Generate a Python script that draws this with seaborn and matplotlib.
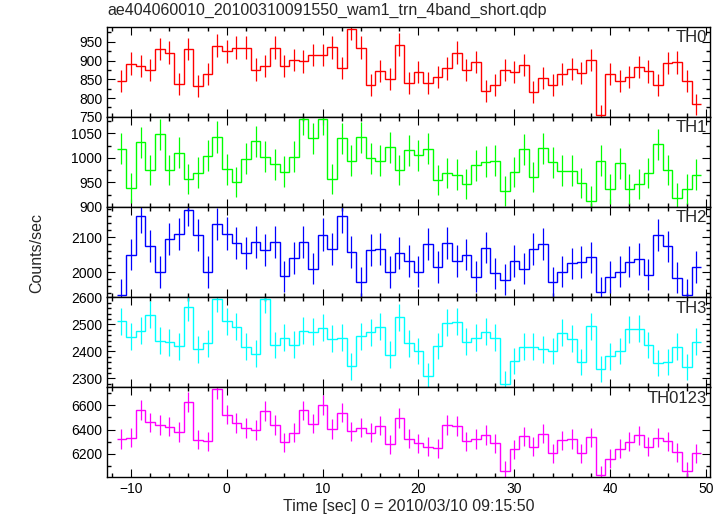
import matplotlib
matplotlib.use("Agg")
import matplotlib.pyplot as plt
import seaborn as sns
import numpy as np
from matplotlib.ticker import MultipleLocator

# bin centres (1 s bins)
time = np.arange(-11, 50)

th0 = [846, 892, 885, 874, 931, 921, 838, 931, 832, 865, 940, 925, 934, 934, 876, 886,
       934, 885, 901, 898, 915, 915, 936, 880, 985, 934, 835, 872, 850, 942, 841, 869,
       841, 856, 879, 921, 875, 896, 819, 835, 874, 869, 889, 816, 854, 835, 865, 878,
       867, 901, 754, 865, 845, 857, 883, 871, 835, 893, 895, 846, 783]
th1 = [1019, 938, 1032, 975, 1048, 975, 1011, 957, 970, 1005, 1043, 977, 951, 998, 1034, 1002,
       987, 972, 1002, 1079, 1040, 1079, 957, 1040, 994, 1042, 999, 994, 1022, 975, 1016, 1006,
       1019, 955, 969, 966, 946, 985, 992, 994, 932, 971, 1018, 961, 1020, 991, 974, 974,
       949, 912, 994, 936, 989, 936, 947, 969, 1028, 975, 918, 936, 966]
th2 = [1936, 2051, 2160, 2075, 2001, 2096, 2109, 2179, 2106, 2001, 2139, 2111, 2085, 2056, 2087, 2063,
       2087, 1989, 2042, 2088, 2011, 2108, 2068, 2160, 2059, 1972, 2063, 2068, 2001, 2055, 2033, 2002,
       2082, 2016, 2084, 2033, 2051, 1988, 2071, 1997, 1979, 2033, 2011, 2066, 2081, 1972, 2002, 2026,
       2029, 2043, 1943, 1987, 2002, 2031, 2038, 1993, 2107, 2074, 1985, 1936, 2016]
th3 = [2511, 2455, 2477, 2536, 2440, 2434, 2419, 2563, 2407, 2430, 2596, 2511, 2491, 2418, 2392, 2595,
       2423, 2451, 2425, 2476, 2473, 2488, 2447, 2451, 2344, 2456, 2471, 2491, 2388, 2526, 2430, 2401,
       2307, 2420, 2506, 2510, 2436, 2451, 2473, 2451, 2280, 2364, 2418, 2418, 2407, 2401, 2469, 2447,
       2361, 2493, 2333, 2381, 2401, 2482, 2484, 2423, 2357, 2361, 2418, 2341, 2436]
th0123 = [6321, 6332, 6562, 6460, 6436, 6425, 6381, 6627, 6315, 6304, 6734, 6523, 6455, 6414, 6397, 6553,
          6436, 6296, 6375, 6559, 6449, 6603, 6406, 6540, 6386, 6416, 6373, 6433, 6277, 6496, 6326, 6288,
          6258, 6244, 6438, 6430, 6304, 6321, 6356, 6285, 6060, 6238, 6343, 6258, 6367, 6203, 6312, 6321,
          6203, 6337, 6025, 6159, 6241, 6301, 6351, 6258, 6332, 6304, 6211, 6055, 6203]

bands = ["TH0", "TH1", "TH2", "TH3", "TH0123"]
series = [th0, th1, th2, th3, th0123]
colors = ["#ff0000", "#00ff00", "#0000ff", "#00ffff", "#ff00ff"]
ylims = [(750, 990), (900, 1084), (1930, 2187), (2268, 2602), (6008, 6752)]
ymajor = [50, 50, 100, 100, 200]
yminor = [25, 25, 20, 20, 100]

sns.set_theme(style="ticks")
plt.rcParams["font.family"] = ["Liberation Sans", "DejaVu Sans"]
plt.rcParams.update({
    "xtick.direction": "in", "ytick.direction": "in",
    "xtick.top": True, "ytick.right": True,
    "xtick.major.size": 6, "ytick.major.size": 6,
    "xtick.minor.size": 3, "ytick.minor.size": 3,
    "xtick.major.width": 0.8, "ytick.major.width": 0.8,
    "axes.linewidth": 1.0,
    "axes.edgecolor": "black",
    "xtick.color": "black", "ytick.color": "black",
})

fig, axes = plt.subplots(5, 1, figsize=(7.28, 5.16), dpi=100, sharex=True)
fig.subplots_adjust(left=0.147, right=0.975, top=0.948, bottom=0.0756, hspace=0)

edges = np.append(time - 0.5, time[-1] + 0.5)
for ax, name, vals, col, yl, ma, mi in zip(axes, bands, series, colors, ylims, ymajor, yminor):
    vals = np.asarray(vals, dtype=float)
    # Poisson errors for 1 s bins
    err = np.sqrt(vals)
    ax.stairs(vals, edges, color=col, linewidth=1.0, baseline=None)
    ax.errorbar(time, vals, yerr=err, fmt="none", ecolor=col, elinewidth=0.9, capsize=0)
    ax.set_ylim(*yl)
    ax.set_xlim(-12.5, 50.4)
    ax.yaxis.set_major_locator(MultipleLocator(ma))
    ax.yaxis.set_minor_locator(MultipleLocator(mi))
    ax.xaxis.set_major_locator(MultipleLocator(10))
    ax.xaxis.set_minor_locator(MultipleLocator(2))
    ax.tick_params(which="both", direction="in", top=True, right=True, labelsize=10)
    ax.text(0.995, 0.96, name, transform=ax.transAxes, ha="right", va="top", fontsize=12)

axes[-1].set_xlabel("Time [sec] 0 = 2010/03/10 09:15:50", fontsize=11.5, labelpad=2)
fig.text(0.05, 0.51, "Counts/sec", rotation=90, ha="center", va="center", fontsize=11.5)
fig.text(0.147, 0.965, "ae404060010_20100310091550_wam1_trn_4band_short.qdp",
         ha="left", va="bottom", fontsize=11.5)

fig.savefig("out.png", dpi=100)
